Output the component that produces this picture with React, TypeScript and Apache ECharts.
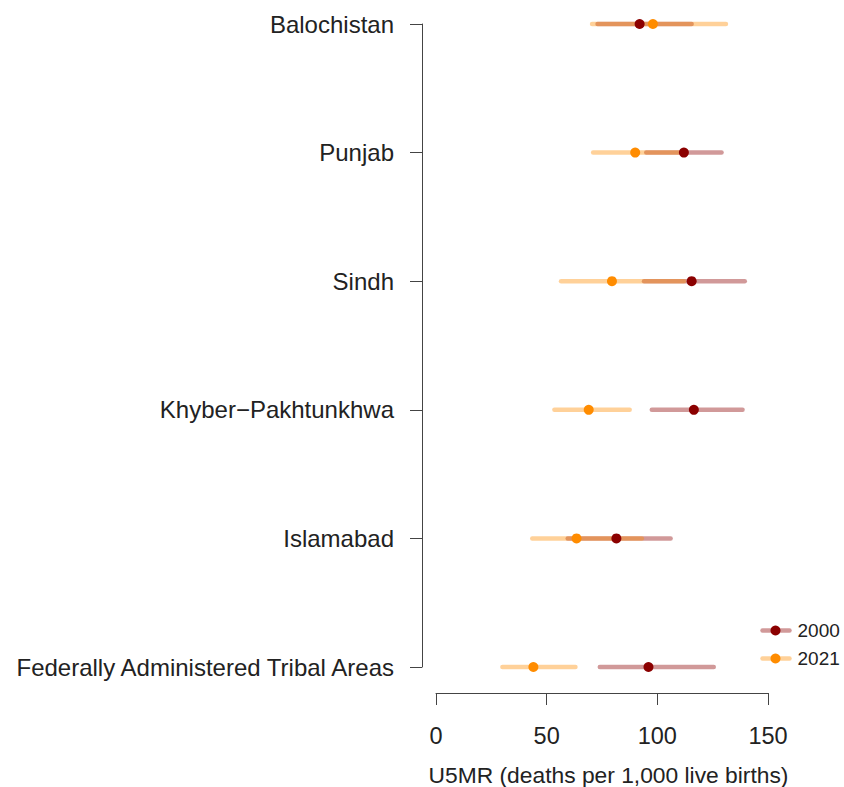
import React, { useEffect, useRef } from "react";
import * as echarts from "echarts";

const regions = [
  "Balochistan",
  "Punjab",
  "Sindh",
  "Khyber\u2212Pakhtunkhwa",
  "Islamabad",
  "Federally Administered Tribal Areas",
];

const mean2000 = [92, 112, 115.5, 116.5, 81.5, 96];
const lower2000 = [73, 95, 94, 97.5, 59.5, 74];
const upper2000 = [115.5, 129, 139.5, 138.5, 106, 125.5];

const mean2021 = [98, 90, 79.5, 69, 63.5, 44];
const lower2021 = [70.5, 71, 56.5, 53.5, 43.5, 30];
const upper2021 = [131, 109.5, 112, 87.5, 93, 63];

const xTicks = { min: 0, max: 150, interval: 50 };

const COLOR_2000 = "#8B0000";
const COLOR_2021 = "#FF8C00";
const LINE_2000 = "rgba(139,0,0,0.4)";
const LINE_2021 = "rgba(255,140,0,0.4)";
const FONT = "Liberation Sans";

function intervalSeries(lo: number[], hi: number[], color: string, z: number) {
  return {
    type: "custom",
    z,
    encode: { x: [0, 1], y: 2 },
    data: lo.map((l, i) => [l, hi[i], i]),
    renderItem: (params: any, api: any) => {
      const a = api.coord([api.value(0), api.value(2)]);
      const b = api.coord([api.value(1), api.value(2)]);
      return {
        type: "line",
        shape: { x1: a[0], y1: a[1], x2: b[0], y2: b[1] },
        style: { stroke: color, lineWidth: 4.5, lineCap: "round" },
      };
    },
    silent: true,
  };
}

export default function App() {
  const ref = useRef<HTMLDivElement>(null);
  useEffect(() => {
    if (!ref.current) return;
    const chart = echarts.init(ref.current, null, { renderer: "svg" });
    chart.setOption({
      animation: false,
      backgroundColor: "#ffffff",
      textStyle: { fontFamily: FONT },
      grid: {
        left: 436,
        right: 76,
        top: 24,
        bottom: 120,
        containLabel: false,
        outerBoundsMode: "none",
      },
      xAxis: {
        type: "value",
        min: xTicks.min,
        max: xTicks.max,
        interval: xTicks.interval,
        offset: 26,
        splitLine: { show: false },
        axisLine: { show: true, lineStyle: { color: "#444", width: 1 } },
        axisTick: { show: true, length: 12, lineStyle: { color: "#444" } },
        axisLabel: { fontSize: 23.5, color: "#222", margin: 31, fontFamily: FONT },
        name: "U5MR (deaths per 1,000 live births)",
        nameLocation: "middle",
        nameGap: 70,
        nameTextStyle: {
          fontSize: 22.8,
          color: "#222",
          fontFamily: FONT,
          padding: [0, 0, 0, 13],
        },
      },
      yAxis: {
        type: "category",
        data: regions,
        inverse: true,
        boundaryGap: false,
        offset: 14,
        axisLine: { show: true, onZero: false, lineStyle: { color: "#444", width: 1 } },
        axisTick: { show: true, length: 12, lineStyle: { color: "#444" } },
        axisLabel: { fontSize: 24, color: "#222", margin: 28, fontFamily: FONT },
        splitLine: { show: false },
      },
      series: [
        intervalSeries(lower2000, upper2000, LINE_2000, 1),
        intervalSeries(lower2021, upper2021, LINE_2021, 2),
        {
          type: "scatter",
          z: 3,
          symbol: "circle",
          symbolSize: 10,
          itemStyle: { color: COLOR_2000, opacity: 1 },
          data: mean2000.map((v, i) => [v, i]),
        },
        {
          type: "scatter",
          z: 4,
          symbol: "circle",
          symbolSize: 10,
          itemStyle: { color: COLOR_2021, opacity: 1 },
          data: mean2021.map((v, i) => [v, i]),
        },
      ],
      graphic: [
        {
          type: "group",
          left: 760,
          top: 621,
          children: [
            { type: "line", shape: { x1: 2, y1: 8, x2: 29, y2: 8 }, style: { stroke: LINE_2000, lineWidth: 4.5, lineCap: "round" } },
            { type: "circle", shape: { cx: 15, cy: 8, r: 5 }, style: { fill: COLOR_2000 } },
            { type: "text", x: 37, y: 8, style: { text: "2000", fontSize: 19, fontFamily: FONT, fill: "#222", verticalAlign: "middle", align: "left" } },
            { type: "line", shape: { x1: 2, y1: 36, x2: 29, y2: 36 }, style: { stroke: LINE_2021, lineWidth: 4.5, lineCap: "round" } },
            { type: "circle", shape: { cx: 15, cy: 36, r: 5 }, style: { fill: COLOR_2021 } },
            { type: "text", x: 37, y: 36, style: { text: "2021", fontSize: 19, fontFamily: FONT, fill: "#222", verticalAlign: "middle", align: "left" } },
          ],
        },
      ],
    });
    return () => chart.dispose();
  }, []);
  return (
    <div
      ref={ref}
      style={{ position: "fixed", left: 0, top: 0, width: 844, height: 787, background: "#fff" }}
    />
  );
}
